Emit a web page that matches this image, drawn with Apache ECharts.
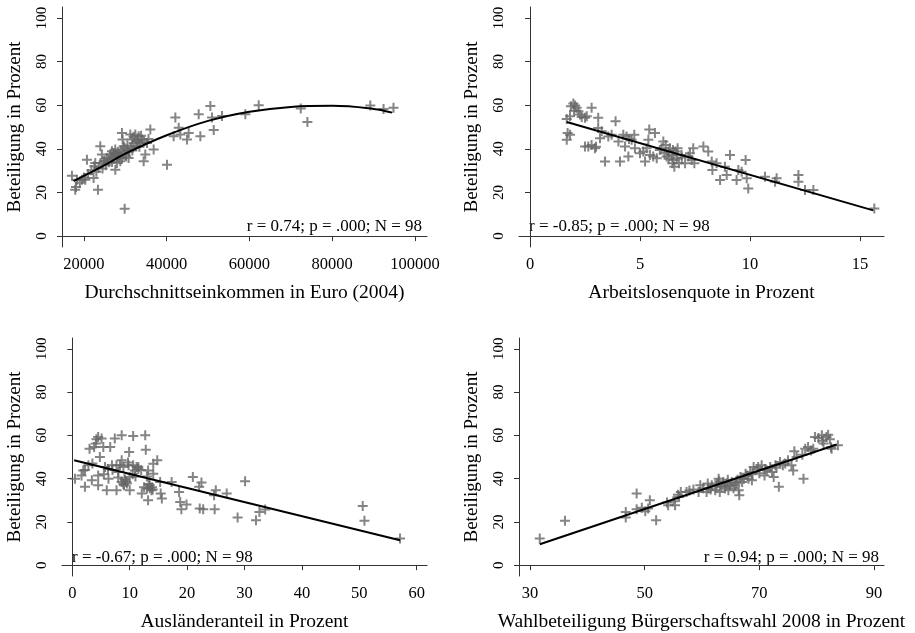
<!DOCTYPE html>
<html><head><meta charset="utf-8">
<script src="https://cdn.jsdelivr.net/npm/echarts@6/dist/echarts.min.js"></script>
<style>html,body{margin:0;padding:0;background:#fff}#c{width:915px;height:633px}</style>
</head><body><div id="c"></div>
<script>
// ---- data ----
const yTicks = [0, 20, 40, 60, 80, 100];
const xTicks1 = [20000, 40000, 60000, 80000, 100000];
const xTicks2 = [0, 5, 10, 15];
const xTicks3 = [0, 10, 20, 30, 40, 50, 60];
const xTicks4 = [30, 50, 70, 90];

const yName = 'Beteiligung in Prozent';
const xName1 = 'Durchschnittseinkommen in Euro (2004)';
const xName2 = 'Arbeitslosenquote in Prozent';
const xName3 = 'Ausländeranteil in Prozent';
const xName4 = 'Wahlbeteiligung Bürgerschaftswahl 2008 in Prozent';

const note1 = 'r = 0.74; p = .000; N = 98';
const note2 = 'r = -0.85; p = .000; N = 98';
const note3 = 'r = -0.67; p = .000; N = 98';
const note4 = 'r = 0.94; p = .000; N = 98';

const pts1 = [
[17100,27.7],[18310,25.8],[17900,21.2],[18070,22.5],[19520,25.8],[20330,25.8],[20730,35.0],[22340,26.6],
[22740,33.5],[23390,21.2],[23550,31.2],[23950,41.2],[24350,37.4],[24760,34.3],[25560,35.8],[25970,35.1],
[26370,37.4],[26770,38.9],[27180,38.1],[27580,39.7],[27580,30.4],[27980,33.5],[28390,35.8],[28790,34.3],
[29190,47.3],[29350,44.3],[29600,41.2],[29840,12.5],[30000,37.4],[30400,39.7],[30800,35.8],[31210,46.6],
[31610,44.3],[32010,42.7],[32420,46.6],[32820,43.5],[33220,45.8],[33620,42.7],[34030,44.3],[34430,34.3],
[34830,37.4],[35240,42.7],[36040,48.9],[36850,39.7],[40070,32.7],[42090,54.3],[42900,49.6],[41680,45.8],
[43300,46.6],[45310,47.3],[44910,44.3],[47730,55.8],[48130,45.8],[50550,59.6],[50950,54.3],[51360,48.6],
[53370,55.0],[59010,55.8],[62230,60.0],[72400,58.5],[74000,52.3],[89200,59.8],[92400,58.3],[94800,58.8],
[21000,28.5],[21800,30.2],[22500,32],[23000,29.5],[24000,33.5],[24500,31],[25000,34.5],[25300,32.5],
[26000,33.8],[26500,35.5],[26800,34],[27200,36.5],[27500,37.8],[28000,36.8],[28200,38.5],[28600,37],
[29000,39.3],[29200,35.5],[29500,38],[29800,40.5],[30200,36.5],[30500,41.5],[30900,38.8],[31300,40.5],
[31700,39.2],[32000,45.5],[32500,41.3],[33000,44],[33400,41],[33800,46],[34500,43.5],[35600,44.5],
[19000,24.5],[20000,26.8]
];
const fit1 = [[17500,25.2],[25000,32.5],[30000,37.8],[40000,46.2],[50000,52.8],[60000,57.0],[70000,59.2],[80000,59.7],[90000,58.3],[94500,56.6]];

const pts2 = [
[1.67,44.2],[1.71,47.2],[1.82,46.5],[1.67,53.7],[1.82,54.9],[1.86,59.5],[1.97,60.8],[2.05,59.8],
[2.12,58.8],[2.2,57.2],[2.27,55.7],[2.35,54.6],[2.5,54.2],[2.58,54.9],[2.5,41.1],[2.65,41.1],
[2.8,58.8],[2.8,41.8],[2.95,40.3],[3.1,54.2],[3.1,49.5],[3.26,48],[3.18,44.9],[3.41,34.2],
[3.56,45.7],[3.71,46.5],[3.89,52.6],[4.02,43.4],[4.09,34.2],[4.24,46.5],[4.32,41.1],[4.39,45.7],
[4.47,36.5],[4.62,44.2],[4.74,46.5],[4.77,40.3],[5.0,38],[5.15,38.8],[5.23,34.2],[5.3,40.3],
[5.38,44.2],[5.42,48.8],[5.45,37.2],[5.6,36.5],[5.68,47.2],[5.76,35.7],[5.98,40.3],[6.06,43.4],
[6.11,38],[6.17,41.8],[6.21,36.5],[6.29,38.8],[6.36,40.3],[6.44,37.2],[6.47,33.4],[6.52,34.9],
[6.56,31.8],[6.62,38.8],[6.67,35.7],[6.71,40.3],[6.77,33.4],[6.89,37.2],[7.05,33.4],[7.2,36.5],
[7.27,38],[7.35,34.9],[7.42,40.3],[7.47,33.4],[7.88,41.1],[8.1,38.8],[8.26,34.2],[8.29,30.3],
[8.48,33.4],[8.64,25.7],[8.86,31.8],[8.94,28],[9.09,37.2],[9.39,25.7],[9.47,30.3],[9.62,29.5],
[9.8,34.9],[9.85,26.5],[9.92,21.8],[10.68,27.2],[11.14,24.9],[11.21,26.5],[12.2,28],[12.2,24.9],
[12.5,21.1],[12.88,21.1],[15.65,12.6],[6.3,35.5],[5.9,39.5],[6.9,36],[2.0,57.5],[4.5,44.5],
[3.0,41],[6.5,39.5]
];
const fit2 = [[1.67,52.3],[15.6,11.8]];

const pts3 = [
[0.46,40],[1.6,41.5],[1.9,43.8],[2.2,36.2],[2.8,46.2],[3.0,53.8],[3.4,39.2],[3.8,54.6],
[4.1,56.2],[4.2,58.2],[4.5,59.2],[4.5,41.5],[4.5,36.9],[4.8,50],[5.1,58.5],[5.4,54.6],
[5.7,45.4],[6.0,34.6],[6.3,40],[6.6,54.6],[6.9,46.2],[7.4,58.5],[7.7,46.2],[7.7,34.6],
[8.0,43.1],[8.3,46.2],[8.6,60],[8.6,48.5],[8.6,38.5],[8.9,45.4],[9.0,36.9],[9.2,39.2],
[9.5,37.7],[9.8,46.2],[9.9,52.3],[10.0,40.8],[10.0,34.6],[10.6,59.7],[10.6,46.2],[10.9,43.8],
[11.2,45.4],[11.5,45.4],[12.1,33.1],[12.7,60],[12.8,53.4],[13.0,35.4],[13.2,30],[13.2,43.8],
[13.5,36.9],[13.8,34.6],[14.1,46.9],[14.1,42.3],[14.8,48.5],[15.3,38.5],[15.4,33.1],[15.6,30.8],
[17.3,38.5],[18.6,33.8],[18.8,29.2],[19.0,25.8],[19.9,28],[21.0,40.8],[22.1,36.2],[22.5,38.2],
[22.8,25.8],[22.2,26.2],[24.7,32.3],[24.8,25.8],[25.0,34.6],[26.9,33.1],[28.8,22],[30.1,38.8],
[32.0,20.8],[32.6,24.6],[33.6,25.7],[50.6,27.4],[50.9,20.5],[57.1,12.3],
[8.9,37.5],[9.4,38.5],[9.1,39.8],[13.5,35.5],[13.9,36],[13.3,37.5],[7.0,44],[12.0,44],
[10.5,42],[11.0,41],[14.0,35],[12.5,36],[9.7,47.5],[8.0,40.5],[6.2,44.5],[5.5,42],
[3.5,47],[2.2,44],[11.5,44.5],[13.0,41]
];
const fit3 = [[0.3,48.5],[57.1,11.5]];

const pts4 = [
[31.7,12.3],[36.1,20.5],[46.7,24.6],[46.7,22],[48.6,33.1],[48.6,25.8],[50.1,24.9],[50.6,26.2],
[50.9,30],[52.0,20.8],[54.1,27.7],[55.0,29.5],[55.3,27.7],[56.0,31.5],[56.3,33.8],[57.3,33.8],
[59.4,33.8],[59.7,36.9],[60.8,33.8],[61.1,35.4],[61.7,36.9],[62.3,34.6],[62.6,37.7],[62.9,40],
[63.1,33.8],[63.4,36.2],[63.7,38.5],[64.0,35.4],[64.3,37.7],[64.6,34.6],[64.9,36.9],[65.2,38.5],
[65.8,36.9],[66.4,34.6],[66.5,32.3],[66.7,40.8],[67.0,38.5],[67.3,40],[67.6,42.3],[68.1,40],
[68.4,43.1],[68.7,39.2],[69.0,45.4],[69.8,45.4],[70.4,46.2],[70.9,41.5],[71.3,43.8],[71.9,45.4],
[72.2,43.1],[72.5,40.8],[72.8,46.2],[73.4,36.2],[73.6,47.7],[74.1,46.2],[75.0,48.5],[75.6,46.2],
[75.9,43.8],[76.1,52.6],[77.7,40],[78.0,53.8],[78.5,54.6],[79.4,53.8],[79.7,59.2],[80.3,58.8],
[80.9,60],[81.2,56.2],[81.7,59.2],[82.0,60.3],[82.3,58.2],[82.6,53.8],[83.7,55.4],
[57.8,34.5],[58.5,35],[60.2,35.5],[61.5,35],[62.5,36.5],[63.0,38.8],[64.1,36.5],[65.5,35.5],
[66.0,38],[67.9,41.5],[69.5,44.5],[70.0,42.5],[71.0,44.5],[73.0,45],[74.5,47],[76.5,50],
[77.5,51],[79.0,53],[81.0,57.5],[82.5,54.5],[55.8,32.5],[53.9,29],[49.5,26.5],[61.0,37.8],
[64.5,39.5],[66.2,39.5],[68.8,42]
];
const fit4 = [[31.7,9.7],[83.5,55.8]];

// ---- chart ----
const FONT = 'Liberation Serif';
const PLUS = 'path://M4,0H6V4H10V6H6V10H4V6H0V4H4Z';
const grids = [
  {left: 62, top: 7, width: 365, height: 240},
  {left: 519, top: 7, width: 365, height: 240},
  {left: 62, top: 338, width: 365, height: 240},
  {left: 519, top: 338, width: 365, height: 240}
];
const xRanges = [[14700, 102900], [-0.5, 16.09], [-1.8, 61.8], [28.08, 91.74]];
const xTicksAll = [xTicks1, xTicks2, xTicks3, xTicks4];
const xNames = [xName1, xName2, xName3, xName4];
const ptsAll = [pts1, pts2, pts3, pts4];
const fitAll = [fit1, fit2, fit3, fit4];

const axisLineStyle = {show: true, lineStyle: {color: '#333', width: 1}};
const plain = v => String(Math.round(v));
const xAxis = grids.map((g, i) => ({
  gridIndex: i, type: 'value', min: xRanges[i][0], max: xRanges[i][1],
  name: xNames[i], nameLocation: 'middle', nameGap: 36,
  nameTextStyle: {fontFamily: FONT, fontSize: 19.5, color: '#000'},
  axisLine: axisLineStyle,
  axisTick: {show: true, length: 5, customValues: xTicksAll[i], lineStyle: {color: '#333'}},
  axisLabel: {customValues: xTicksAll[i], formatter: plain, fontFamily: FONT, fontSize: 16.5, color: '#000', margin: 9},
  splitLine: {show: false}
}));
const yAxis = grids.map((g, i) => ({
  gridIndex: i, type: 'value', min: -5, max: 105,
  name: yName, nameLocation: 'middle', nameGap: 37, nameRotate: 90,
  nameTextStyle: {fontFamily: FONT, fontSize: 19, color: '#000'},
  axisLine: axisLineStyle,
  axisTick: {show: true, length: 5, customValues: yTicks, lineStyle: {color: '#333'}},
  axisLabel: {customValues: yTicks, formatter: plain, rotate: 90, fontFamily: FONT, fontSize: 15, color: '#000', margin: 12},
  splitLine: {show: false}
}));
const series = [];
grids.forEach((g, i) => {
  series.push({type: 'scatter', xAxisIndex: i, yAxisIndex: i, data: ptsAll[i],
    symbol: PLUS, symbolSize: 10, itemStyle: {color: '#666'}, silent: true, z: 2});
  series.push({type: 'line', xAxisIndex: i, yAxisIndex: i, data: fitAll[i],
    smooth: i === 0 ? 0.4 : false, showSymbol: false, symbol: 'none',
    lineStyle: {color: '#000', width: 2}, silent: true, z: 3});
});
const noteStyle = {fontFamily: FONT, fontSize: 17, fill: '#000'};
const graphic = [
  {type: 'text', x: 422, y: 227, style: Object.assign({text: note1, align: 'right', verticalAlign: 'middle'}, noteStyle)},
  {type: 'text', x: 529, y: 227, style: Object.assign({text: note2, align: 'left', verticalAlign: 'middle'}, noteStyle)},
  {type: 'text', x: 72, y: 558, style: Object.assign({text: note3, align: 'left', verticalAlign: 'middle'}, noteStyle)},
  {type: 'text', x: 879, y: 558, style: Object.assign({text: note4, align: 'right', verticalAlign: 'middle'}, noteStyle)}
];
const chart = echarts.init(document.getElementById('c'), null, {renderer: 'canvas'});
chart.setOption({animation: false, backgroundColor: '#fff', grid: grids, xAxis, yAxis, series, graphic});
</script></body></html>
